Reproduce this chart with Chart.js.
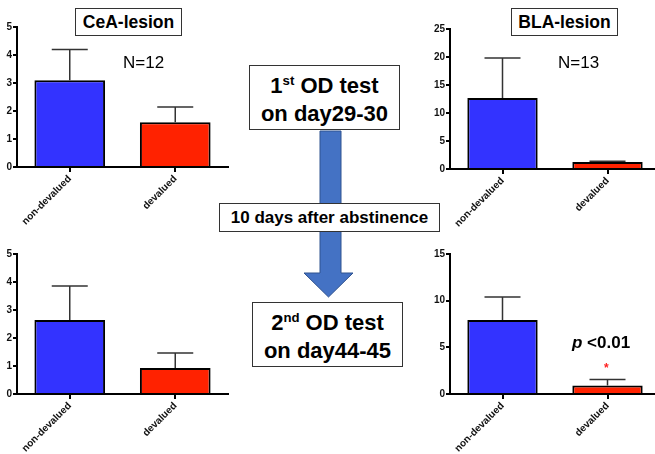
<!DOCTYPE html>
<html>
<head>
<meta charset="utf-8">
<script src="https://cdn.jsdelivr.net/npm/chart.js@4.4.0/dist/chart.umd.min.js"></script>
<style>
  html, body { margin: 0; padding: 0; background: #fff; overflow: hidden; }
  body { width: 655px; height: 454px; position: relative; font-family: "Liberation Sans", Arial, sans-serif; }
  canvas { position: absolute; }
  .box { position: absolute; border: 1px solid #333; background: #fff; box-sizing: border-box;
         text-align: center; font-weight: bold; color: #000; white-space: nowrap; }
  .lbl { position: absolute; color: #000; white-space: nowrap; }
  sup { font-size: 60%; vertical-align: 0; position: relative; top: -0.6em; }
</style>
</head>
<body>
<svg width="655" height="454" style="position:absolute;left:0;top:0">
  <polygon points="320,131 341,131 341,273 353,273 328.5,297 304,273 320,273"
           fill="#4472C4" stroke="#2F528F" stroke-width="1"/>
</svg>

<canvas id="ceaFirst" width="230" height="230" style="left:0;top:0"></canvas>
<canvas id="blaFirst" width="255" height="230" style="left:410px;top:0"></canvas>
<canvas id="ceaSecond" width="230" height="224" style="left:0;top:230px"></canvas>
<canvas id="blaSecond" width="255" height="224" style="left:410px;top:230px"></canvas>

<div class="box" style="left:75px;top:8px;width:107px;height:28px;line-height:26px;font-size:17.5px">CeA-lesion</div>
<div class="box" style="left:511px;top:8px;width:107px;height:28px;line-height:26px;font-size:17.5px">BLA-lesion</div>
<div class="lbl" style="left:123px;top:53px;font-size:17px">N=12</div>
<div class="lbl" style="left:558px;top:53px;font-size:17px">N=13</div>

<div class="box" style="left:249px;top:65px;width:151px;height:65px;font-size:22px;line-height:25px;padding-top:7px">1<sup>st</sup> OD test<br>on day29-30</div>
<div class="box" style="left:219px;top:203px;width:221px;height:29px;font-size:17px;line-height:27px">10 days after abstinence</div>
<div class="box" style="left:252px;top:302px;width:151px;height:65px;font-size:22px;line-height:25px;padding-top:7px">2<sup>nd</sup> OD test<br>on day44-45</div>

<div class="lbl" style="left:572px;top:333px;font-size:17px;font-weight:bold"><i>p</i> &lt;0.01</div>
<div class="lbl" style="left:604px;top:361px;font-size:12px;color:#ff2020;font-weight:bold">*</div>

<script>
// groups and values (mean, and SEM above the mean)
const groups = ['non-devalued', 'devalued'];
const barColors = ['#3333FF', '#FF2200'];

const ceaFirstMean = [3.1, 1.6];
const ceaFirstSem = [1.1, 0.54];
const blaFirstMean = [12.7, 1.25];
const blaFirstSem = [7.1, 0.15];

const ceaSecondMean = [2.64, 0.93];
const ceaSecondSem = [1.22, 0.53];
const blaSecondMean = [7.93, 0.9];
const blaSecondSem = [2.47, 0.65];

// y axis ranges: [max, step]
const ceaTicks = [5, 1];
const blaFirstTicks = [25, 5];
const blaSecondTicks = [15, 5];

const errorBars = {
  id: 'errorBars',
  afterDatasetsDraw(chart) {
    const ctx = chart.ctx;
    const ds = chart.data.datasets[0];
    const meta = chart.getDatasetMeta(0);
    const y = chart.scales.y;
    ctx.save();
    ctx.strokeStyle = '#333';
    ctx.lineWidth = 1.5;
    meta.data.forEach((bar, i) => {
      const top = y.getPixelForValue(ds.data[i] + ds.sem[i]);
      ctx.beginPath();
      ctx.moveTo(bar.x, bar.y);
      ctx.lineTo(bar.x, top);
      ctx.moveTo(bar.x - 18, top);
      ctx.lineTo(bar.x + 18, top);
      ctx.stroke();
    });
    ctx.restore();
  }
};

function makeChart(id, mean, sem, ticks, area) {
  const canvas = document.getElementById(id);
  const w = canvas.width, h = canvas.height;
  return new Chart(canvas, {
    type: 'bar',
    data: {
      labels: groups,
      datasets: [{
        data: mean,
        sem: sem,
        backgroundColor: barColors,
        borderColor: '#000',
        borderWidth: 2,
        borderSkipped: 'bottom',
        barPercentage: 0.67,
        categoryPercentage: 1
      }]
    },
    options: {
      responsive: false,
      animation: false,
      layout: { padding: { top: area.top, right: w - area.right, left: 0, bottom: 0 } },
      plugins: { legend: { display: false }, tooltip: { enabled: false } },
      scales: {
        x: {
          afterFit: s => { s.height = h - area.bottom; },
          grid: { drawOnChartArea: false, offset: false, color: '#000', lineWidth: 2, tickLength: 5 },
          border: { color: '#000', width: 2 },
          ticks: { minRotation: 45, maxRotation: 45, padding: 1, color: '#111',
                   font: { family: 'Liberation Sans', size: 10, weight: 'bold' } }
        },
        y: {
          min: 0,
          max: ticks[0],
          afterFit: s => { s.width = area.left; },
          grid: { drawOnChartArea: false, color: '#000', lineWidth: 2, tickLength: 4 },
          border: { color: '#000', width: 2 },
          ticks: { stepSize: ticks[1], padding: 1, color: '#111',
                   font: { family: 'Liberation Sans', size: 10, weight: 'bold' } }
        }
      }
    },
    plugins: [errorBars]
  });
}

makeChart('ceaFirst', ceaFirstMean, ceaFirstSem, ceaTicks, { left: 17, top: 27, right: 228, bottom: 167 });
makeChart('blaFirst', blaFirstMean, blaFirstSem, blaFirstTicks, { left: 40, top: 29, right: 250, bottom: 169 });
makeChart('ceaSecond', ceaSecondMean, ceaSecondSem, ceaTicks, { left: 17, top: 24, right: 228, bottom: 164 });
makeChart('blaSecond', blaSecondMean, blaSecondSem, blaSecondTicks, { left: 40, top: 24, right: 250, bottom: 164 });
</script>
</body>
</html>
